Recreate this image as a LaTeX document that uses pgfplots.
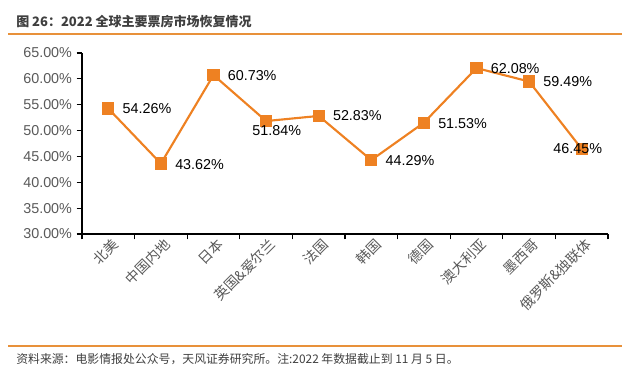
\documentclass[border=0pt]{standalone}
\usepackage{pgfplots}
\pgfplotsset{compat=1.18}
\usepackage{pgfplotstable}
\usepackage{fontspec}
\setmainfont{Liberation Sans}
\newfontfamily\cjk{Noto Sans CJK SC}
\definecolor{lineorange}{HTML}{EE8122}
\definecolor{ruleorange}{HTML}{E8913A}
\definecolor{ticktext}{HTML}{595959}
\definecolor{titletext}{HTML}{3F3F3F}
\pgfplotstableread{
x y dx dy
0.5 54.26 29 0
1.5 43.62 29 -0.5
2.5 60.73 29 0
3.5 51.84 8 -7.5
4.5 52.83 29 0
5.5 44.29 29 -0.5
6.5 51.53 29 -0.5
7.5 62.08 29 0
8.5 59.49 29 0
9.5 46.45 -3 0
}\datatable
\begin{document}
\begin{tikzpicture}
\path[use as bounding box] (0,0) rectangle (480pt,280.5pt);
\node[anchor=west, inner sep=0pt, text=titletext, font=\cjk\bfseries\fontsize{9.75pt}{11pt}\selectfont] at (12pt,264pt) {图 26：2022 全球主要票房市场恢复情况};
\draw[ruleorange, line width=1.1pt] (6pt,255pt) -- (466.5pt,255pt);
\draw[ruleorange, line width=1.1pt] (6pt,21pt) -- (466.5pt,21pt);
\node[anchor=west, inner sep=0pt, text=titletext, font=\cjk\fontsize{8.9pt}{10pt}\selectfont] at (12pt,11.25pt) {资料来源：电影情报处公众号，天风证券研究所。注:2022 年数据截止到 11 月 5 日。};
\begin{axis}[
  scale only axis,
  at={(61.5pt,105pt)}, anchor=south west,
  width=394.5pt, height=135.75pt,
  xmin=0, xmax=10, ymin=30, ymax=65,
  axis x line*=bottom, axis y line*=left,
  axis line style={-, black, line width=0.8pt},
  xtick={0,...,10},
  x tick label as interval,
  xticklabels={北美,中国内地,日本,英国\&爱尔兰,法国,韩国,德国,澳大利亚,墨西哥,俄罗斯\&独联体},
  xticklabel style={rotate=45, anchor=east, font=\cjk\fontsize{10.5pt}{12pt}\selectfont, text=ticktext, inner sep=1pt, yshift=-5pt, xshift=3.5pt},
  ytick={30,35,...,65},
  yticklabel={\pgfmathprintnumber[fixed,fixed zerofill,precision=2]{\tick}\%},
  /pgf/number format/assume math mode=true,
  yticklabel style={font=\fontsize{10.75pt}{12pt}\selectfont, text=ticktext},
  tick style={black, line width=0.8pt},
  major tick length=4pt,
  tick align=outside,
  clip=false,
]
\addplot[lineorange, line width=1.6pt, mark=square*, mark size=3.8pt, mark options={solid, fill=lineorange, draw=lineorange},
  visualization depends on={\thisrow{dx} \as \ldx},
  visualization depends on={\thisrow{dy} \as \ldy},
  nodes near coords={\pgfmathprintnumber[fixed,fixed zerofill,precision=2]{\pgfplotspointmeta}\%},
  point meta=explicit,
  every node near coord/.append style={anchor=center, xshift=\ldx pt, yshift=\ldy pt, font=\fontsize{10.75pt}{12pt}\selectfont, text=black, /pgf/number format/assume math mode=true},
] table[x=x, y=y, meta=y] {\datatable};
\end{axis}
\end{tikzpicture}
\end{document}
